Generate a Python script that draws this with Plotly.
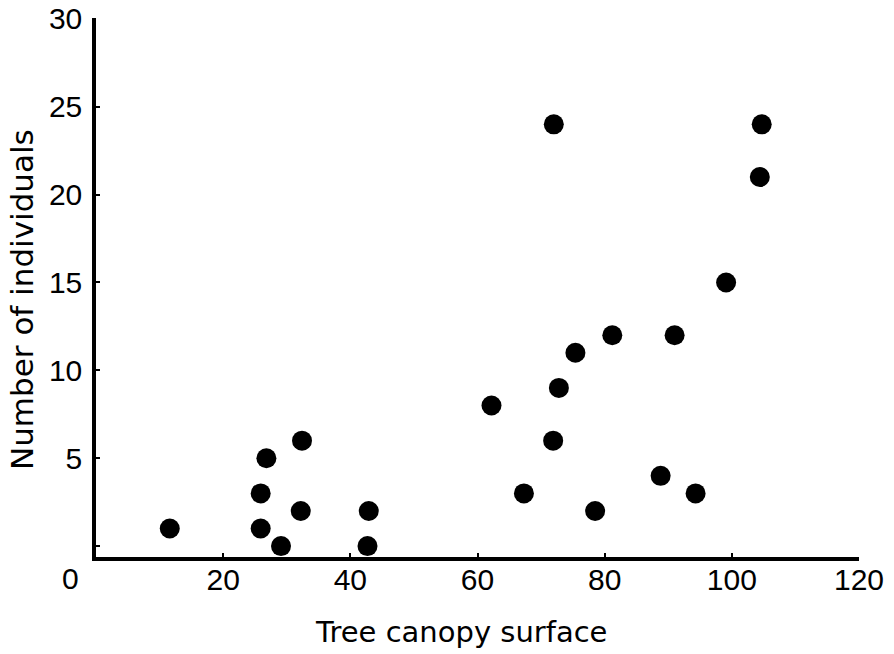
import plotly.graph_objects as go

# Data
canopy = [11.6, 25.9, 25.9, 26.8, 29.1, 32.4, 32.2, 42.9, 42.7,
          62.2, 67.3, 72.0, 71.9, 72.8, 75.4, 78.5, 81.2, 88.8,
          91.0, 94.3, 99.1, 104.4, 104.7]
individuals = [1, 3, 1, 5, 0, 6, 2, 2, 0,
               8, 3, 24, 6, 9, 11, 2, 12, 4,
               12, 3, 15, 21, 24]

x_tickvals = [20, 40, 60, 80, 100, 120]
x_ticktext = ["20", "40", "60", "80", "100", "120"]
y_tickvals = [0, 5, 10, 15, 20, 25, 30]
y_ticktext = ["", "5", "10", "15", "20", "25", "30"]
origin_label = "0"
x_title = "Tree canopy surface"
y_title = "Number of individuals"

TICK_FONT = "Liberation Sans, Arial, sans-serif"
TITLE_FONT = "DejaVu Sans, sans-serif"

W, H = 894, 654
L, R, T, B = 96, 35, 18, 97
PW, PH = W - L - R, H - T - B


def px2paper(px, py):
    return (px - L) / PW, (H - B - py) / PH


fig = go.Figure()
fig.add_trace(go.Scatter(
    x=canopy, y=individuals, mode="markers",
    marker=dict(symbol="circle", size=20, color="black", line=dict(width=0)),
    cliponaxis=False, showlegend=False,
))

axis_common = dict(
    showgrid=False, zeroline=False, showline=True, linecolor="black",
    linewidth=3.5, ticks="inside", ticklen=4, tickwidth=2, tickcolor="black",
    tickfont=dict(family=TICK_FONT, size=30, color="black"), automargin=False,
)

fig.update_layout(
    width=W, height=H,
    margin=dict(l=L, r=R, t=T, b=B, autoexpand=False),
    template="none",
    plot_bgcolor="white", paper_bgcolor="white",
    font=dict(family=TICK_FONT, size=30, color="black"),
    xaxis=dict(range=[0, 120], tickvals=x_tickvals, ticktext=x_ticktext,
               ticklabelstandoff=-7, **axis_common),
    yaxis=dict(range=[-0.62, 30.05], tickvals=y_tickvals, ticktext=y_ticktext,
               ticklabelstandoff=4, **axis_common),
)

ox, oy = px2paper(70, 578)
fig.add_annotation(x=ox, y=oy, xref="paper", yref="paper", text=origin_label,
                   showarrow=False, xanchor="center", yanchor="middle",
                   font=dict(family=TICK_FONT, size=30, color="black"))

tx, ty = px2paper(461, 632)
fig.add_annotation(x=tx, y=ty, xref="paper", yref="paper", text=x_title,
                   showarrow=False, xanchor="center", yanchor="middle",
                   font=dict(family=TITLE_FONT, size=29, color="black"))

yx, yy = px2paper(22, 300)
fig.add_annotation(x=yx, y=yy, xref="paper", yref="paper", text=y_title,
                   showarrow=False, xanchor="center", yanchor="middle", textangle=-90,
                   font=dict(family=TITLE_FONT, size=31, color="black"))

fig.write_html(
    "out.html",
    config={"displayModeBar": False},
    post_script="document.body.style.margin='0';document.body.style.overflow='hidden';",
)
